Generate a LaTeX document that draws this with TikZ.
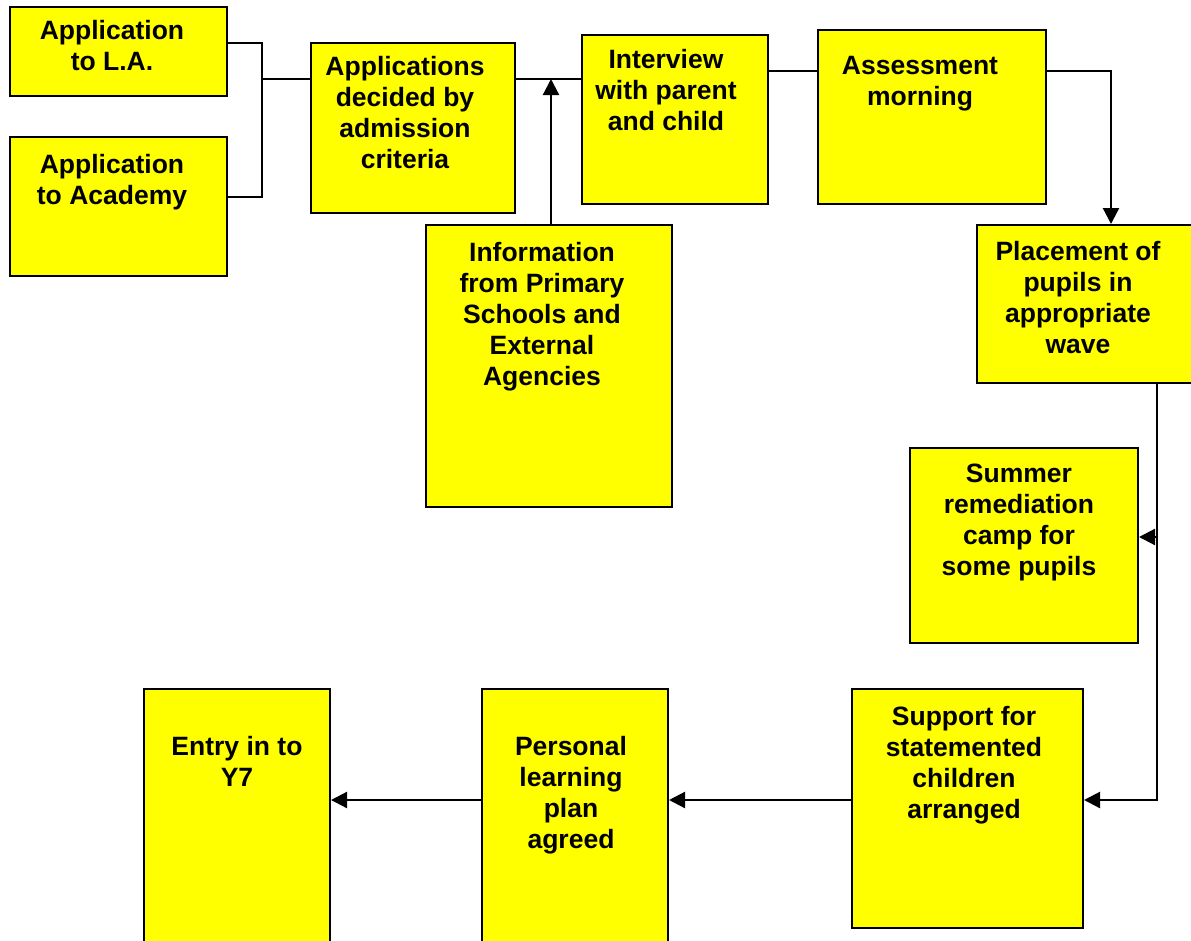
\documentclass[tikz,border=0pt]{standalone}
\usepackage{fontspec}
\setmainfont{Liberation Sans}
\usetikzlibrary{arrows.meta,positioning}
\definecolor{boxyellow}{RGB}{255,255,0}

\begin{document}
\begin{tikzpicture}[x=1pt,y=-1pt,
    box/.style={draw=black, line width=2pt, fill=boxyellow, inner sep=0pt, anchor=north west},
    txt/.style={anchor=north, align=center, inner sep=0pt, font=\fontsize{26.5}{31}\selectfont\bfseries},
    link/.style={line width=1.8pt},
    arrow/.style={line width=2.2pt, -{Triangle[length=16pt,width=16pt]}}]

    % 画布大小 (与原图一致)
    \path[use as bounding box, fill=white] (0,0) rectangle (1191,940);
    \clip (0,0) rectangle (1191,940);

    % 第一排: 申请
    \node[box, minimum width=217pt, minimum height=89pt]  (la)     at (9,6)   {};
    \node[box, minimum width=217pt, minimum height=139pt] (lb)     at (9,136) {};
    \node[box, minimum width=204pt, minimum height=170pt] (apps)   at (310,42) {};
    \node[box, minimum width=186pt, minimum height=169pt] (interview) at (581,34) {};
    \node[box, minimum width=228pt, minimum height=174pt] (assess) at (817,29) {};

    % 中间: 信息, 分组, 夏令营
    \node[box, minimum width=246pt, minimum height=282pt] (info)   at (425,224) {};
    \node[box, minimum width=220pt, minimum height=158pt] (place)  at (976,224) {};
    \node[box, minimum width=228pt, minimum height=195pt] (summer) at (909,447) {};

    % 最下排
    \node[box, minimum width=231pt, minimum height=239pt] (support) at (851,688) {};
    \node[box, minimum width=186pt, minimum height=262pt] (plan)    at (481,688) {};
    \node[box, minimum width=186pt, minimum height=262pt] (entry)   at (143,688) {};

    % 框内文字 (靠上)
    \node[txt] (la-txt)      at ([xshift=-6.5pt,yshift=-14pt]la.north) {Application\\to L.A.};
    \node[txt] (lb-txt)      at ([xshift=-6.5pt,yshift=-18pt]lb.north) {Application\\to Academy};
    \node[txt] (apps-txt)    at ([xshift=-8pt,yshift=-14pt]apps.north) {Applications\\decided by\\admission\\criteria};
    \node[txt] (interview-txt) at ([xshift=-9pt,yshift=-15pt]interview.north) {Interview\\with parent\\and child};
    \node[txt] (assess-txt)  at ([xshift=-12pt,yshift=-27pt]assess.north) {Assessment\\morning};
    \node[txt] (info-txt)    at ([xshift=-7pt,yshift=-18pt]info.north) {Information\\from Primary\\Schools and\\External\\Agencies};
    \node[txt] (place-txt)   at ([xshift=-9pt,yshift=-17pt]place.north) {Placement of\\pupils in\\appropriate\\wave};
    \node[txt] (summer-txt)  at ([xshift=-5pt,yshift=-17pt]summer.north) {Summer\\remediation\\camp for\\some pupils};
    \node[txt] (support-txt) at ([xshift=-3.5pt,yshift=-18pt]support.north) {Support for\\statemented\\children\\arranged};
    \node[txt] (plan-txt)    at ([xshift=-4pt,yshift=-48pt]plan.north) {Personal\\learning\\plan\\agreed};
    \node[txt] (entry-txt)   at ([yshift=-48pt]entry.north) {Entry in to\\Y7};

    % 连线
    \coordinate (merge) at (262,79);
    \coordinate (feed)  at (551,79);
    \coordinate (camp)  at (1157,537);
    \draw[link] (la.east |- 0,43) -| (merge) |- (lb.east |- 0,197);
    \draw[link] (merge) -- (apps.west |- merge);
    \draw[link] (apps.east |- merge) -- (interview.west |- merge);
    \draw[arrow] (info.north -| feed) -- (feed);
    \draw[link] (interview.east |- 0,71) -- (assess.west |- 0,71);
    \draw[arrow] (assess.east |- 0,71) -| (place.north -| 1111,0);

    % 右侧竖线和箭头
    \draw[arrow] (place.south -| camp) |- (support.east |- 0,800);
    \draw[arrow] (camp) -- (summer.east |- camp);
    \draw[arrow] (support.west |- 0,800) -- (plan.east |- 0,800);
    \draw[arrow] (plan.west |- 0,800) -- (entry.east |- 0,800);
\end{tikzpicture}
\end{document}
